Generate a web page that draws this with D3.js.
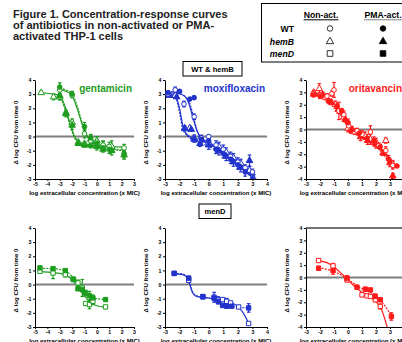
<!DOCTYPE html>
<html><head><meta charset="utf-8">
<script src="https://cdn.jsdelivr.net/npm/d3@7"></script>
<style>
body{margin:0;background:#fff}
svg{display:block;font-family:"Liberation Sans",Arial,sans-serif}
</style></head><body>
<svg id="chart" width="402" height="342"></svg>
<script>
// points are [log conc (x MIC), delta log CFU, sd]; fits are [x, y]
const titleLines = ["Figure 1. Concentration-response curves", "of antibiotics in non-activated or PMA-", "activated THP-1 cells"];
const drugs = ["gentamicin", "moxifloxacin", "oritavancin"];
const legendRows = ["WT", "hemB", "menD"];
const legendCols = ["Non-act.", "PMA-act."];

// gentamicin, WT & hemB
const gentWTnon = [[-3,3.3,0.25],[-2,2.9,0.15],[-1,0.2,0.3],[-0.5,-0.3,0.3],[0,-0.4,0.2],[0.5,-0.6,0.25],[1,-0.7,0.3],[2.2,-0.8,0.25]];
const gentWTpma = [[-3,3.5,0.3],[-2,3.0,0.2],[-1,0.7,0.3],[-0.5,-0.1,0.25],[0,-0.5,0.25],[0.5,-0.8,0.2],[1,-0.9,0.3],[2.2,-1.2,0.3]];
const gentHBnon = [[-4.5,3.1,0.1],[-3.5,2.8,0.2],[-3,2.8,0.2],[-2.5,1.7,0.15],[-2,1.0,0.25],[-1.5,-0.4,0.1],[-1,-0.5,0.1],[-0.5,-0.2,0.3],[0,-0.3,0.3],[0.5,-0.6,0.3],[1.2,-0.7,0.4]];
const gentHBpma = [[-3,2.9,0.3],[-2.5,1.6,0.2],[-2,0.8,0.3],[-1.5,-0.5,0.1],[-1,-0.6,0.15],[-0.5,-0.6,0.2],[0,-0.7,0.25],[0.5,-0.9,0.2],[1.2,-1.0,0.3],[2.2,-1.3,0.3]];
const gentWTnonFit = [[-3,3.3],[-2.5,3.2],[-2,2.9],[-1.6,2.0],[-1.2,0.9],[-0.8,0.0],[-0.4,-0.4],[0.2,-0.6],[1,-0.7],[2.2,-0.75]];
const gentWTpmaFit = [[-3,3.4],[-2.5,3.3],[-2,3.0],[-1.6,2.2],[-1.2,1.0],[-0.8,0.1],[-0.4,-0.4],[0.2,-0.7],[1,-0.85],[2.2,-0.95]];
const gentHBnonFit = [[-4.5,3.1],[-3.5,3.0],[-3,2.9],[-2.6,2.2],[-2.2,1.0],[-1.8,0.0],[-1.4,-0.4],[-0.8,-0.55],[0,-0.65],[1.2,-0.7]];
const gentHBpmaFit = [[-3,2.9],[-2.6,2.0],[-2.2,0.9],[-1.8,-0.1],[-1.4,-0.5],[-0.8,-0.7],[0,-0.8],[1,-0.9],[2.2,-1.0]];

// moxifloxacin, WT & hemB
const moxiWTnon = [[-2.8,3.0,0.1],[-2.3,3.3,0.2],[-1.7,2.3,0.2],[-1.0,1.4,0.2],[-0.5,-0.1,0.2],[0,0.0,0.1],[0.5,-0.6,0.3],[1,-0.9,0.3],[1.5,-1.4,0.3],[2,-1.8,0.3],[2.5,-2.2,0.2],[3,-2.5,0.2]];
const moxiWTpma = [[-2.8,3.1,0.1],[-2.0,3.2,0.1],[-1.3,2.65,0.1],[-1.0,2.75,0.1],[-0.5,-0.2,0.2],[0,-0.3,0.2],[0.5,-0.9,0.3],[1,-1.2,0.3],[1.5,-1.6,0.3],[2,-2.0,0.3],[2.5,-2.5,0.3],[3,-3.0,0.3]];
const moxiHBnon = [[-2.7,3.0,0.1],[-2.3,2.9,0.15],[-1.65,0.6,0.15],[-1.3,0.6,0.1],[-1.0,-0.1,0.2],[-0.6,-0.2,0.2],[0,-0.4,0.3],[0.7,-0.7,0.3],[1.2,-1.1,0.3],[1.7,-1.5,0.3],[2.2,-1.9,0.3],[2.8,-2.4,0.3],[3.1,-3.0,0.3]];
const moxiHBpma = [[-2.7,2.9,0.1],[-2.2,2.8,0.1],[-1.65,0.55,0.1],[-1.2,0.5,0.1],[-1.0,-0.2,0.2],[-0.6,-0.5,0.2],[0,-0.6,0.3],[0.7,-1.0,0.3],[1.2,-1.4,0.3],[1.7,-1.8,0.3],[2.2,-2.2,0.3],[2.8,-1.7,0.4],[3.1,-3.6,0.2]];
const moxiWTnonFit = [[-2.8,3.1],[-2.2,3.05],[-1.7,2.9],[-1.35,2.3],[-1.1,1.4],[-0.8,0.4],[-0.5,-0.1],[0,-0.4],[1,-1.1],[2,-1.9],[3,-2.7]];
const moxiWTpmaFit = [[-2.8,3.2],[-2.2,3.1],[-1.6,2.8],[-1.25,2.2],[-1.0,1.2],[-0.75,0.3],[-0.45,-0.2],[0,-0.5],[1,-1.2],[2,-2.0],[3,-2.9]];
const moxiHBnonFit = [[-2.7,3.0],[-2.3,2.85],[-2.0,2.0],[-1.8,0.9],[-1.6,0.3],[-1.3,0.0],[-1,-0.15],[0,-0.5],[1,-1.1],[2,-1.8],[3,-2.6]];
const moxiHBpmaFit = [[-2.7,3.0],[-2.3,2.8],[-2.0,1.7],[-1.8,0.6],[-1.6,0.2],[-1.3,-0.1],[-1,-0.3],[0,-0.7],[1,-1.3],[2,-2.0],[3,-2.9]];

// oritavancin, WT & hemB
const oriWTnon = [[-2.45,2.9,0.15],[-2.0,2.8,0.2],[-1.5,2.7,0.2],[-1.15,2.9,0.2],[-1.0,3.2,0.6],[-0.65,1.5,0.7],[-0.3,1.2,0.3],[0.05,0.3,0.3],[0.65,-0.1,0.2],[1.0,-0.4,0.3],[1.6,-0.2,0.5],[2.2,-1.3,0.2],[2.7,-1.7,0.3],[3.2,-2.9,0.3]];
const oriWTpma = [[-2.45,2.8,0.15],[-2.0,2.7,0.2],[-1.4,2.3,0.15],[-0.8,1.9,0.2],[-0.45,1.5,0.2],[0,0.55,0.3],[0.2,-0.1,0.2],[0.8,-0.3,0.2],[1.35,-0.7,0.3],[1.85,-0.9,0.3],[2.3,-1.4,0.2],[2.9,-2.4,0.3],[3.5,-2.95,0.1]];
const oriHBnon = [[-2.45,3.0,0.15],[-2.05,3.3,0.4],[-1.6,2.6,0.2],[-0.9,2.0,0.3],[-0.3,1.0,0.3],[0,0.1,0.3],[0.5,-0.2,0.2],[1.2,-0.5,0.3],[1.6,-0.8,0.4],[2.0,-1.0,0.3],[2.7,-0.9,0.2],[3.2,-2.8,0.3]];
const oriHBpma = [[-2.45,2.85,0.15],[-1.8,2.8,0.2],[-1.2,2.2,0.2],[-0.7,1.6,0.3],[-0.2,0.8,0.2],[0.3,0.0,0.2],[0.9,-0.6,0.3],[1.4,-0.9,0.3],[2.0,-1.2,0.3],[2.5,-1.9,0.2],[3.0,-2.7,0.3],[3.2,-3.75,0.2]];
const oriWTnonFit = [[-2.45,2.95],[-1.5,2.6],[-0.7,1.7],[0,0.5],[0.7,-0.3],[1.5,-0.8],[2.3,-1.5],[3.2,-2.9]];
const oriWTpmaFit = [[-2.45,2.85],[-1.5,2.5],[-0.7,1.6],[0,0.4],[0.7,-0.4],[1.5,-0.9],[2.3,-1.6],[3.5,-3.0]];
const oriHBnonFit = [[-2.45,3.0],[-1.5,2.6],[-0.7,1.5],[0,0.3],[0.7,-0.4],[1.5,-0.9],[2.3,-1.5],[3.2,-2.9]];
const oriHBpmaFit = [[-2.45,2.9],[-1.5,2.5],[-0.7,1.5],[0,0.2],[0.7,-0.5],[1.5,-1.0],[2.3,-1.7],[3.2,-3.2]];

// menD
const gentMDnon = [[-4.6,0.94,0.1],[-3.54,0.82,0.4],[-2.55,0.7,0.15],[-1.93,0.4,0.1],[-1.53,0.12,0.2],[-1.18,-0.24,0.6],[-0.91,-1.34,0.1],[-0.6,-1.41,0.3],[-0.32,-1.18,0.2],[0.7,-1.58,0.1]];
const gentMDpma = [[-4.6,1.18,0.1],[-3.54,1.13,0.1],[-2.55,0.99,0.1],[-1.88,0.35,0.1],[-1.53,-0.3,0.1],[-1.18,-0.35,0.15],[-0.91,-0.6,0.2],[-0.6,-0.78,0.3],[-0.32,-0.94,0.2],[0.7,-1.06,0.1]];
const gentMDnonFit = [[-4.6,0.92],[-3.5,0.85],[-2.6,0.7],[-2.0,0.35],[-1.5,-0.2],[-1.0,-0.8],[-0.5,-1.3],[0,-1.5],[0.7,-1.6]];
const gentMDpmaFit = [[-4.6,1.15],[-3.5,1.12],[-2.6,1.0],[-2.0,0.55],[-1.5,-0.1],[-1.0,-0.6],[-0.5,-0.9],[0,-1.0],[0.7,-1.05]];
const moxiMDnon = [[-2.37,0.78,0.05],[-1.37,0.3,0.15],[-0.4,-0.87,0.1],[0.37,-0.9,0.35],[0.65,-1.06,0.2],[0.95,-1.06,0.1],[1.23,-1.18,0.2],[1.5,-1.3,0.1],[2.05,-1.58,0.05],[2.74,-2.75,0.05]];
const moxiMDpma = [[-2.37,0.8,0.05],[-1.37,0.45,0.15],[-0.4,-0.85,0.15],[0.37,-0.95,0.2],[0.65,-1.18,0.2],[0.95,-1.48,0.1],[1.23,-1.53,0.15],[1.58,-1.53,0.1],[2.74,-1.65,0.3]];
const moxiMDnonFit = [[-2.4,0.75],[-1.8,0.7],[-1.5,0.5],[-1.3,0.0],[-1.1,-0.6],[-0.8,-0.85],[0,-0.95],[1,-1.1],[1.8,-1.4],[2.3,-1.9],[2.75,-2.75]];
const moxiMDpmaFit = [[-2.4,0.8],[-1.8,0.75],[-1.5,0.55],[-1.3,0.1],[-1.1,-0.5],[-0.8,-0.8],[0,-0.95],[1,-1.35],[2,-1.6],[2.75,-1.65]];
const oriMDnon = [[-2.1,1.37,0.1],[-1.07,0.94,0.2],[-0.07,-0.19,0.15],[1.0,-1.4,0.15],[1.36,-1.48,0.1],[1.6,-1.53,0.1],[1.95,-1.8,0.15],[2.31,-2.34,0.2]];
const oriMDpma = [[-2.1,0.75,0.15],[-1.07,0.56,0.3],[-0.07,-0.05,0.2],[0.64,-0.78,0.15],[1.24,-0.94,0.15],[1.6,-1.0,0.1],[1.95,-1.53,0.2],[2.31,-1.8,0.15],[3.1,-3.15,0.3]];
const oriMDnonFit = [[-2.1,1.35],[-1.5,1.2],[-1,0.85],[-0.5,0.35],[0,-0.2],[0.5,-0.75],[1,-1.2],[1.5,-1.55],[2,-1.95],[2.4,-2.6],[2.8,-4.0]];
const oriMDpmaFit = [[-2.1,0.8],[-1.5,0.65],[-1,0.5],[-0.5,0.2],[0,-0.15],[0.5,-0.55],[1,-0.9],[1.5,-1.15],[2,-1.5],[2.5,-2.1],[3.1,-3.1]];

const colors = {gentamicin: "#1e9c1e", moxifloxacin: "#2233cc", oritavancin: "#ff1a1a"};
const font = `"Liberation Sans", Arial, sans-serif`;

const panels = [
    {drug: "gentamicin", left: 35, top: 80, w: 99, h: 99, xd: [-5, 3], yd: [-3, 4], series: [
        [gentHBnon, gentHBnonFit, "tri", false], [gentHBpma, gentHBpmaFit, "tri", true],
        [gentWTnon, gentWTnonFit, "circle", false], [gentWTpma, gentWTpmaFit, "circle", true]]},
    {drug: "moxifloxacin", left: 165, top: 80, w: 102, h: 99, xd: [-3, 4], yd: [-3, 4], series: [
        [moxiHBnon, moxiHBnonFit, "tri", false], [moxiHBpma, moxiHBpmaFit, "tri", true],
        [moxiWTnon, moxiWTnonFit, "circle", false], [moxiWTpma, moxiWTpmaFit, "circle", true]]},
    {drug: "oritavancin", left: 306, top: 80, w: 98, h: 99, xd: [-3, 4], yd: [-4, 4], series: [
        [oriHBnon, oriHBnonFit, "tri", false], [oriHBpma, oriHBpmaFit, "tri", true],
        [oriWTnon, oriWTnonFit, "circle", false], [oriWTpma, oriWTpmaFit, "circle", true]]},
    {drug: "gentamicin", left: 35, top: 228, w: 99, h: 99, xd: [-5, 3], yd: [-3, 4], noLabel: true, series: [
        [gentMDnon, gentMDnonFit, "square", false], [gentMDpma, gentMDpmaFit, "square", true]]},
    {drug: "moxifloxacin", left: 165, top: 228, w: 102, h: 99, xd: [-3, 4], yd: [-3, 4], noLabel: true, series: [
        [moxiMDnon, moxiMDnonFit, "square", false], [moxiMDpma, moxiMDpmaFit, "square", true]]},
    {drug: "oritavancin", left: 306, top: 228, w: 98, h: 99, xd: [-3, 4], yd: [-4, 4], noLabel: true, topRule: true, series: [
        [oriMDnon, oriMDnonFit, "square", false], [oriMDpma, oriMDpmaFit, "square", true]]}
];

const svg = d3.select("#chart");

const symbolTypes = {circle: d3.symbolCircle, tri: d3.symbolTriangle, square: d3.symbolSquare};
const symbolSizes = {circle: 17, tri: 19, square: 19};

function symbolPath(kind, size) {
    return d3.symbol().type(symbolTypes[kind]).size(size || symbolSizes[kind])();
}

// title
svg.append("g").selectAll("text")
    .data(titleLines)
    .join("text")
    .attr("x", 13)
    .attr("y", (d, i) => 18 + i * 11)
    .attr("font-size", 11)
    .attr("font-weight", "bold")
    .attr("fill", "#222")
    .text(d => d);

// legend
const lg = svg.append("g");
lg.append("rect").attr("x", 261.5).attr("y", 3.5).attr("width", 150).attr("height", 58.5)
    .attr("fill", "none").attr("stroke", "#000").attr("stroke-width", 1);
const colX = [321, 383];
const symX = [330, 383];
legendCols.forEach((c, i) => {
    const t = lg.append("text").attr("x", colX[i]).attr("y", 17.5).attr("text-anchor", "middle")
        .attr("font-size", 8.7).attr("font-weight", "bold").text(c);
    const len = t.node().getComputedTextLength();
    lg.append("line").attr("x1", colX[i] - len / 2).attr("x2", colX[i] + len / 2)
        .attr("y1", 19.8).attr("y2", 19.8).attr("stroke", "#000").attr("stroke-width", 1)
        .attr("stroke-dasharray", i ? "1,1" : null);
});
const rowY = [28.5, 41.5, 53.5];
const rowSym = ["circle", "tri", "square"];
legendRows.forEach((r, i) => {
    lg.append("text").attr("x", 294).attr("y", rowY[i] + 3)
        .attr("text-anchor", "end").attr("font-size", 8.7).attr("font-weight", "bold")
        .attr("font-style", i ? "italic" : "normal").text(r);
    [false, true].forEach((filled, j) => {
        lg.append("path").attr("d", symbolPath(rowSym[i], rowSym[i] === "square" ? 32 : 24))
            .attr("transform", `translate(${symX[j]},${rowY[i]})`)
            .attr("fill", filled ? "#000" : "#fff").attr("stroke", "#000").attr("stroke-width", 0.8);
    });
});

// strain boxes
function strainBox(label, cx, y, w) {
    svg.append("rect").attr("x", cx - w / 2).attr("y", y).attr("width", w).attr("height", 14.5)
        .attr("fill", "#fff").attr("stroke", "#000").attr("stroke-width", 1);
    svg.append("text").attr("x", cx).attr("y", y + 10).attr("text-anchor", "middle")
        .attr("font-size", 7.6).attr("font-weight", "bold").text(label);
}
strainBox("WT & hemB", 212.5, 61.5, 59);
strainBox("menD", 215, 204, 32);

panels.forEach((p, pi) => {
    const color = colors[p.drug];
    const g = svg.append("g").attr("transform", `translate(${p.left},${p.top})`);
    const x = d3.scaleLinear().domain(p.xd).range([0, p.w]);
    const y = d3.scaleLinear().domain(p.yd).range([p.h, 0]);

    g.append("clipPath").attr("id", `clip${pi}`)
        .append("rect").attr("x", -4).attr("y", -4).attr("width", p.w + 8).attr("height", p.h + 4);

    if (p.topRule) {
        g.append("line").attr("x1", 0).attr("x2", p.w).attr("y1", 0).attr("y2", 0)
            .attr("stroke", "#444").attr("stroke-width", 1.5);
    }
    g.append("line").attr("x1", 0).attr("x2", p.w).attr("y1", y(0)).attr("y2", y(0))
        .attr("stroke", "#7f7f7f").attr("stroke-width", 2);

    const xAxis = g.append("g").attr("transform", `translate(0,${p.h})`)
        .call(d3.axisBottom(x).tickValues(d3.range(p.xd[0], p.xd[1] + 1))
            .tickFormat(d => String(d)).tickSize(2).tickSizeOuter(0).tickPadding(1));
    const yAxis = g.append("g")
        .call(d3.axisLeft(y).tickValues(d3.range(p.yd[0], p.yd[1] + 1))
            .tickFormat(d => String(d)).tickSize(2).tickSizeOuter(0).tickPadding(1.5));
    [xAxis, yAxis].forEach(a => {
        a.attr("font-family", font).attr("font-size", 5.2).attr("font-weight", "bold");
        a.select(".domain").attr("stroke-width", 1);
    });

    g.append("text").attr("x", p.w / 2).attr("y", p.h + 15.5).attr("text-anchor", "middle")
        .attr("font-size", 6.1).attr("font-weight", "bold")
        .text("log extracellular concentration (x MIC)");
    g.append("text").attr("transform", `translate(-17,${p.h / 2 + 3}) rotate(-90)`)
        .attr("text-anchor", "middle").attr("font-size", 6.1).attr("font-weight", "bold")
        .text("\u0394 log CFU from time 0");

    if (!p.noLabel) {
        g.append("text").attr("x", x(p.xd[1]) - 2).attr("y", 11.5).attr("text-anchor", "end")
            .attr("font-size", 10).attr("font-weight", "bold").attr("fill", color).text(p.drug);
    }

    const plot = g.append("g").attr("clip-path", `url(#clip${pi})`);
    const line = d3.line().x(d => x(d[0])).y(d => y(d[1])).curve(d3.curveMonotoneX);

    p.series.forEach(([pts, fit, kind, pma]) => {
        plot.append("path").datum(fit).attr("d", line).attr("fill", "none")
            .attr("stroke", color).attr("stroke-width", 1.2)
            .attr("stroke-dasharray", pma ? "2,1.2" : null);
    });
    p.series.forEach(([pts, fit, kind, pma]) => {
        const bars = plot.append("g").attr("stroke", color).attr("stroke-width", 1.2);
        bars.selectAll("line.v").data(pts).join("line").attr("class", "v")
            .attr("x1", d => x(d[0])).attr("x2", d => x(d[0]))
            .attr("y1", d => y(d[1] - d[2])).attr("y2", d => y(d[1] + d[2]));
        bars.selectAll("line.t").data(pts).join("line").attr("class", "t")
            .attr("x1", d => x(d[0]) - 1.8).attr("x2", d => x(d[0]) + 1.8)
            .attr("y1", d => y(d[1] + d[2])).attr("y2", d => y(d[1] + d[2]));
        bars.selectAll("line.b").data(pts).join("line").attr("class", "b")
            .attr("x1", d => x(d[0]) - 1.8).attr("x2", d => x(d[0]) + 1.8)
            .attr("y1", d => y(d[1] - d[2])).attr("y2", d => y(d[1] - d[2]));
    });
    p.series.forEach(([pts, fit, kind, pma]) => {
        plot.append("g").selectAll("path").data(pts).join("path")
            .attr("d", symbolPath(kind))
            .attr("transform", d => `translate(${x(d[0])},${y(d[1])})`)
            .attr("fill", pma ? color : "#fff")
            .attr("stroke", color).attr("stroke-width", 1);
    });
});
</script></body></html>
